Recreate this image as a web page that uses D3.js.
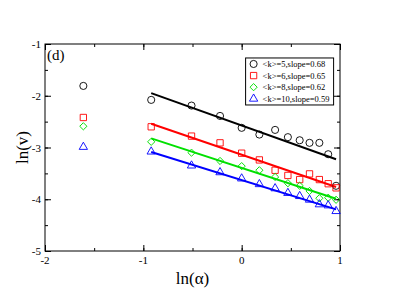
<!DOCTYPE html>
<html>
<head>
<meta charset="utf-8">
<script src="https://cdn.jsdelivr.net/npm/d3@7"></script>
<style>
  body { margin: 0; background: #fff; }
  text { font-family: "Liberation Serif", "DejaVu Serif", serif; }
</style>
</head>
<body>
<div class="chart"></div>
<script>
// ln(alpha) values shared by all series
var lnAlpha = [-1.61, -0.92, -0.51, -0.22, 0, 0.18, 0.34, 0.47, 0.59, 0.69, 0.79, 0.88, 0.96];

var k5  = [-1.81, -2.08, -2.19, -2.39, -2.62, -2.75, -2.66, -2.80, -2.86, -2.91, -2.91, -3.13, -3.74];
var k6  = [-2.42, -2.60, -2.78, -2.91, -3.11, -3.24, -3.44, -3.54, -3.62, -3.51, -3.62, -3.70, -3.78];
var k8  = [-2.59, -2.89, -3.10, -3.26, -3.36, -3.44, -3.57, -3.69, -3.74, -3.84, -3.98, -3.97, -4.01];
var k10 = [-2.99, -3.08, -3.35, -3.48, -3.60, -3.71, -3.79, -3.88, -3.94, -4.01, -4.10, -4.12, -4.23];

var seriesNames = ["<k>=5,slope=0.68", "<k>=6,slope=0.65", "<k>=8,slope=0.62", "<k>=10,slope=0.59"];
var slopes = [0.68, 0.65, 0.62, 0.59];
var intercepts = [-2.575, -3.14, -3.395, -3.63];   // fit value at ln(alpha)=0
var fitRange = [-0.92, 0.96];

var xTicks = [-2, -1, 0, 1];
var yTicks = [-5, -4, -3, -2, -1];

var colors = ["#000000", "#ff0000", "#00e000", "#0000ff"];
var shapes = [d3.symbolCircle, d3.symbolSquare, d3.symbolSquare, d3.symbolTriangle];
var sizes = [40, 40, 26, 30];
var rotations = [0, 0, 45, 0];
var allSeries = [k5, k6, k8, k10];

var margin = { top: 44, right: 67, bottom: 37, left: 45 },
    width = 407 - margin.left - margin.right,
    height = 288 - margin.top - margin.bottom;

var svg = d3.select(".chart").append("svg")
    .attr("width", 407)
    .attr("height", 288)
    .append("g")
    .attr("transform", "translate(" + margin.left + "," + margin.top + ")");

var x = d3.scaleLinear().domain([-2, 1]).range([0, width]);
var y = d3.scaleLinear().domain([-5, -1]).range([height, 0]);

// minor + major ticks, all pointing inward, on all four sides
var minorX = d3.range(-2, 1.01, 0.5), minorY = d3.range(-5, -0.99, 0.5);
function tickAxis(axis, scale, vals, isMajor) {
    return axis(scale).tickValues(vals).tickSizeInner(isMajor ? -6 : -3).tickSizeOuter(0).tickFormat("");
}
svg.append("g").attr("transform", "translate(0," + height + ")").call(tickAxis(d3.axisBottom, x, minorX, false));
svg.append("g").attr("transform", "translate(0," + height + ")").call(tickAxis(d3.axisBottom, x, xTicks, true));
svg.append("g").call(tickAxis(d3.axisTop, x, minorX, false));
svg.append("g").call(tickAxis(d3.axisTop, x, xTicks, true));
svg.append("g").call(tickAxis(d3.axisLeft, y, minorY, false));
svg.append("g").call(tickAxis(d3.axisLeft, y, yTicks, true));
svg.append("g").attr("transform", "translate(" + width + ",0)").call(tickAxis(d3.axisRight, y, minorY, false));
svg.append("g").attr("transform", "translate(" + width + ",0)").call(tickAxis(d3.axisRight, y, yTicks, true));
svg.selectAll(".domain").remove();
svg.selectAll(".tick line").attr("stroke", "#000");

// tick labels
svg.append("g").selectAll("text").data(xTicks).enter().append("text")
    .attr("x", function (d) { return x(d); })
    .attr("y", height + 13)
    .attr("text-anchor", "middle")
    .attr("font-size", 11)
    .text(function (d) { return d; });
svg.append("g").selectAll("text").data(yTicks).enter().append("text")
    .attr("x", -4)
    .attr("y", function (d) { return y(d) + 4; })
    .attr("text-anchor", "end")
    .attr("font-size", 11)
    .text(function (d) { return d; });

// frame
svg.append("rect").attr("width", width).attr("height", height)
    .attr("fill", "none").attr("stroke", "#000").attr("stroke-width", 1);

// fit lines
var line = d3.line().x(function (d) { return x(d[0]); }).y(function (d) { return y(d[1]); });
slopes.forEach(function (s, i) {
    var pts = fitRange.map(function (v) { return [v, intercepts[i] - s * v]; });
    svg.append("path").attr("d", line(pts))
        .attr("fill", "none").attr("stroke", colors[i]).attr("stroke-width", 2);
});

// markers
allSeries.forEach(function (vals, i) {
    svg.append("g").selectAll("path").data(vals).enter().append("path")
        .attr("transform", function (d, j) {
            return "translate(" + x(lnAlpha[j]) + "," + y(d) + ") rotate(" + rotations[i] + ")";
        })
        .attr("d", d3.symbol().type(shapes[i]).size(sizes[i]))
        .attr("fill", "none").attr("stroke", colors[i]).attr("stroke-width", 0.9);
});

// legend
var lg = svg.append("g").attr("transform", "translate(" + x(0.04) + "," + y(-1.27) + ")");
lg.append("rect").attr("width", 88).attr("height", 47)
    .attr("fill", "#fff").attr("stroke", "#000").attr("stroke-width", 1);
seriesNames.forEach(function (n, i) {
    var row = lg.append("g").attr("transform", "translate(0," + (6 + i * 11.6) + ")");
    row.append("path").attr("transform", "translate(8,0) rotate(" + rotations[i] + ")")
        .attr("d", d3.symbol().type(shapes[i]).size(sizes[i]))
        .attr("fill", "none").attr("stroke", colors[i]).attr("stroke-width", 0.9);
    row.append("text").attr("x", 17).attr("y", 3).attr("font-size", 8.5).text(n);
});

// panel label
svg.append("text").attr("x", 2).attr("y", 16).attr("font-size", 15).text("(d)");

// axis titles
svg.append("text").attr("x", width / 2).attr("y", height + 33)
    .attr("text-anchor", "middle").attr("font-size", 17).text("ln(\u03b1)");
svg.append("text").attr("transform", "translate(-17," + (height / 2) + ") rotate(-90)")
    .attr("text-anchor", "middle").attr("font-size", 17).text("ln(v)");
</script>
</body>
</html>
